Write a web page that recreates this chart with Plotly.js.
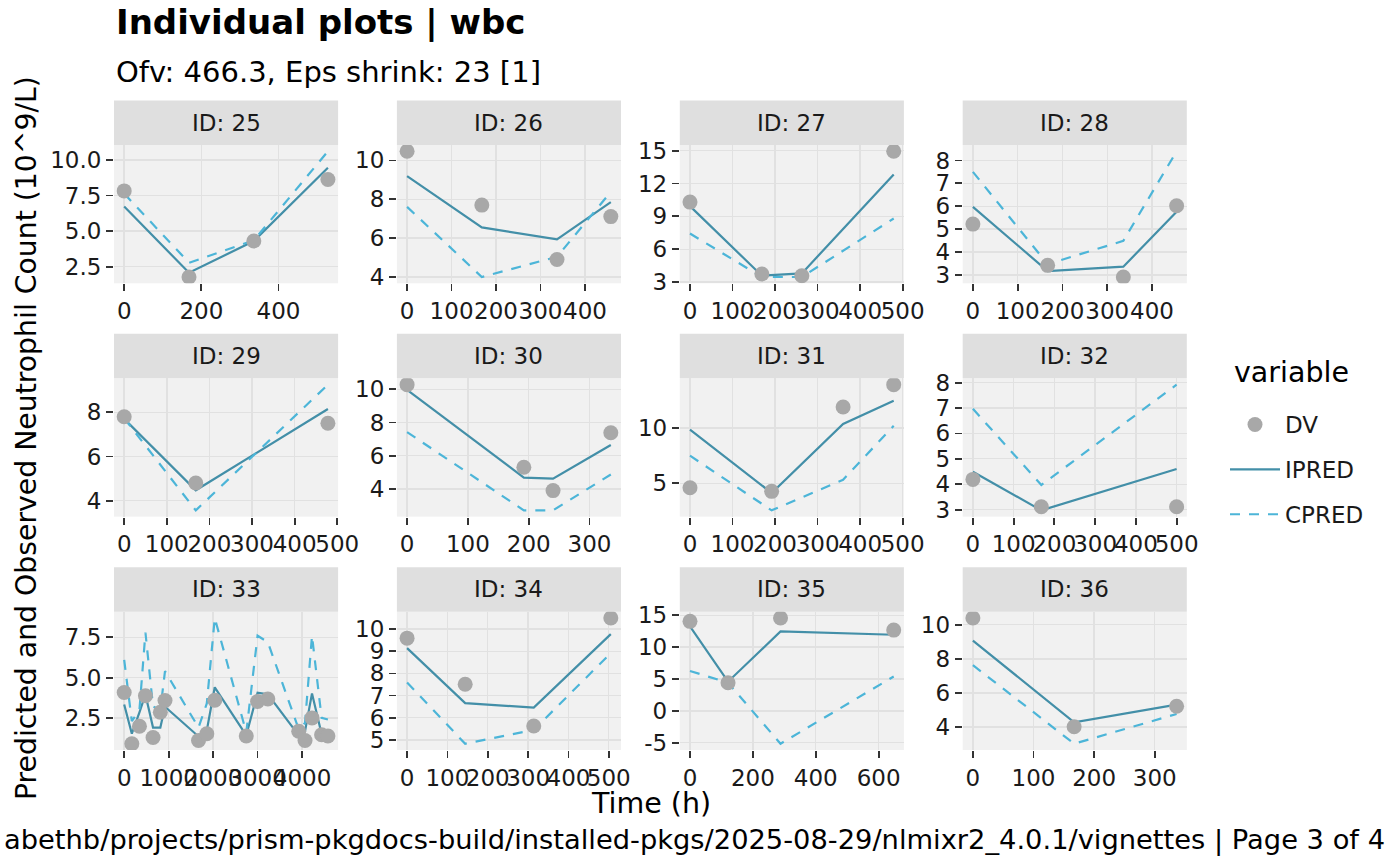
<!DOCTYPE html>
<html>
<head>
<meta charset="utf-8">
<script src="https://cdn.plot.ly/plotly-3.0.1.min.js"></script>
<style>
  html, body { margin: 0; padding: 0; background: #ffffff; }
  #chart { width: 1400px; height: 865px; }
</style>
</head>
<body>
<div id="chart"></div>
<script>
// ============================================================================
// Data
// ============================================================================

const ids = [25, 26, 27, 28, 29, 30, 31, 32, 33, 34, 35, 36];

const time25 = [0, 168, 336, 528];
const dv25 = [7.82, 1.78, 4.31, 8.62];
const ipred25 = [6.72, 2.08, 4.30, 9.44];
const cpred25 = [7.63, 2.78, 4.35, 10.6];

const time26 = [0, 168, 337, 458];
const dv26 = [10.47, 7.70, 4.90, 7.11];
const ipred26 = [9.19, 6.55, 5.94, 7.85];
const cpred26 = [7.61, 4.00, 5.04, 8.38];

const time27 = [0, 169, 263, 479];
const dv27 = [10.30, 3.73, 3.58, 14.94];
const ipred27 = [9.93, 3.58, 3.79, 12.83];
const cpred27 = [7.43, 3.46, 3.46, 8.80];

const time28 = [0, 167, 336, 455];
const dv28 = [5.22, 3.42, 2.91, 6.02];
const ipred28 = [5.97, 3.17, 3.36, 5.76];
const cpred28 = [7.50, 3.47, 4.49, 8.40];

const time29 = [0, 168, 478];
const dv29 = [7.80, 4.80, 7.50];
const ipred29 = [7.70, 4.47, 8.15];
const cpred29 = [7.73, 3.56, 9.25];

const time30 = [0, 192, 240, 335];
const dv30 = [10.28, 5.31, 3.90, 7.38];
const ipred30 = [9.96, 4.68, 4.62, 6.65];
const cpred30 = [7.42, 2.71, 2.71, 4.87];

const time31 = [0, 192, 360, 479];
const dv31 = [4.61, 4.28, 11.90, 13.92];
const ipred31 = [9.85, 4.13, 10.36, 12.47];
const cpred31 = [7.50, 2.56, 5.33, 10.20];

const time32 = [0, 168, 500];
const dv32 = [4.19, 3.11, 3.11];
const ipred32 = [4.49, 2.97, 4.60];
const cpred32 = [6.97, 3.97, 7.92];

const time33 = [0, 172, 343, 478, 649, 813, 918, 1672, 1858, 2037, 2746, 3000, 3231, 3925, 4067, 4224, 4440, 4582];
const dv33 = [4.08, 0.90, 1.98, 3.88, 1.29, 2.85, 3.58, 1.10, 1.52, 3.60, 1.38, 3.52, 3.67, 1.67, 1.10, 2.50, 1.46, 1.38];
const ipred33 = [3.33, 1.52, 2.85, 3.96, 1.90, 1.90, 3.19, 1.35, 1.73, 4.40, 1.42, 4.06, 3.96, 1.42, 1.67, 4.02, 1.50, 1.45];
const cpred33 = [6.10, 2.30, 3.00, 7.80, 3.20, 3.00, 5.40, 1.90, 3.40, 8.70, 1.60, 7.60, 7.20, 1.80, 2.20, 7.60, 2.50, 2.40];

const time34 = [0, 144, 314, 505];
const dv34 = [9.59, 7.51, 5.63, 10.50];
const ipred34 = [9.14, 6.66, 6.46, 9.77];
const cpred34 = [7.59, 4.83, 5.45, 8.92];

const time35 = [0, 121, 288, 648];
const dv35 = [14.05, 4.42, 14.58, 12.68];
const ipred35 = [13.26, 4.58, 12.47, 11.95];
const cpred35 = [6.26, 4.42, -5.16, 5.40];

const time36 = [0, 167, 336];
const dv36 = [10.39, 4.02, 5.22];
const ipred36 = [9.07, 4.28, 5.32];
const cpred36 = [7.63, 3.03, 4.77];

// Tick breaks per facet (same order as ids)
const xTickVals = [
    [0, 200, 400], [0, 100, 200, 300, 400], [0, 100, 200, 300, 400, 500], [0, 100, 200, 300, 400],
    [0, 100, 200, 300, 400, 500], [0, 100, 200, 300], [0, 100, 200, 300, 400, 500], [0, 100, 200, 300, 400, 500],
    [0, 1000, 2000, 3000, 4000], [0, 100, 200, 300, 400, 500], [0, 200, 400, 600], [0, 100, 200, 300]
];
const yTickVals = [
    [2.5, 5, 7.5, 10], [4, 6, 8, 10], [3, 6, 9, 12, 15], [3, 4, 5, 6, 7, 8],
    [4, 6, 8], [4, 6, 8, 10], [5, 10], [3, 4, 5, 6, 7, 8],
    [2.5, 5, 7.5], [5, 6, 7, 8, 9, 10], [-5, 0, 5, 10, 15], [4, 6, 8, 10]
];
const yTickDecimals = [1, 0, 0, 0, 0, 0, 0, 0, 1, 0, 0, 0];

const panels = [
    { time: time25, dv: dv25, ipred: ipred25, cpred: cpred25 },
    { time: time26, dv: dv26, ipred: ipred26, cpred: cpred26 },
    { time: time27, dv: dv27, ipred: ipred27, cpred: cpred27 },
    { time: time28, dv: dv28, ipred: ipred28, cpred: cpred28 },
    { time: time29, dv: dv29, ipred: ipred29, cpred: cpred29 },
    { time: time30, dv: dv30, ipred: ipred30, cpred: cpred30 },
    { time: time31, dv: dv31, ipred: ipred31, cpred: cpred31 },
    { time: time32, dv: dv32, ipred: ipred32, cpred: cpred32 },
    { time: time33, dv: dv33, ipred: ipred33, cpred: cpred33 },
    { time: time34, dv: dv34, ipred: ipred34, cpred: cpred34 },
    { time: time35, dv: dv35, ipred: ipred35, cpred: cpred35 },
    { time: time36, dv: dv36, ipred: ipred36, cpred: cpred36 }
];

// ============================================================================
// Look & geometry (pixels of the 1400x865 page)
// ============================================================================

const W = 1400, H = 865;
const FONT = 'DejaVu Sans';
const COLORS = {
    dv: '#A8A8A8',
    ipred: '#438FA8',
    cpred: '#4CB5D8',
    panel: '#F1F1F1',
    grid: '#E1E1E1',
    strip: '#DFDFDF',
    tick: '#333333',
    text: '#1A1A1A'
};
const COL_LEFT = [114, 396.9, 679.8, 962.7];
const COL_W = 224.1;
const ROW_BOTTOM = [283.3, 516.65, 750];
const PLOT_H = 138.3;
const STRIP_H = 44.5;

const px = x => x / W;
const py = y => 1 - y / H;

// ggplot-style 5% expansion of the data span
function paddedRange(values) {
    const lo = Math.min(...values);
    const hi = Math.max(...values);
    const pad = (hi - lo) * 0.05;
    return [lo - pad, hi + pad];
}

// ============================================================================
// Build traces and axes
// ============================================================================

const traces = [];
const layout = {
    width: W,
    height: H,
    margin: { l: 0, r: 0, t: 0, b: 0 },
    paper_bgcolor: '#ffffff',
    plot_bgcolor: COLORS.panel,
    font: { family: FONT, color: COLORS.text },
    showlegend: true,
    legend: {
        x: px(1225), y: py(403), xanchor: 'left', yanchor: 'top',
        bgcolor: 'rgba(0,0,0,0)',
        font: { size: 23, color: COLORS.text },
        tracegroupgap: 12,
        itemwidth: 50,
        traceorder: 'grouped'
    },
    shapes: [],
    annotations: []
};

panels.forEach((p, i) => {
    const n = i === 0 ? '' : String(i + 1);
    const col = i % 4;
    const row = Math.floor(i / 4);
    const left = COL_LEFT[col];
    const bottom = ROW_BOTTOM[row];
    const top = bottom - PLOT_H;

    const xr = paddedRange(p.time);
    const yr = paddedRange([...p.dv, ...p.ipred, ...p.cpred]);

    layout['xaxis' + n] = {
        domain: [px(left), px(left + COL_W)],
        anchor: 'y' + n,
        range: xr,
        tickmode: 'array',
        tickvals: xTickVals[i],
        ticktext: xTickVals[i].map(v => String(v)),
        showgrid: true, gridcolor: COLORS.grid, gridwidth: 1.4,
        zeroline: false, showline: false,
        ticks: 'outside', ticklen: 7, tickwidth: 1.8, tickcolor: COLORS.tick,
        tickfont: { size: 23, color: COLORS.text },
        tickangle: 0,
        fixedrange: true
    };
    layout['yaxis' + n] = {
        domain: [py(bottom), py(top)],
        anchor: 'x' + n,
        range: yr,
        tickmode: 'array',
        tickvals: yTickVals[i],
        ticktext: yTickVals[i].map(v => v.toFixed(yTickDecimals[i])),
        showgrid: true, gridcolor: COLORS.grid, gridwidth: 1.4,
        zeroline: false, showline: false,
        ticks: 'outside', ticklen: 7, tickwidth: 1.8, tickcolor: COLORS.tick,
        tickfont: { size: 23, color: COLORS.text },
        fixedrange: true
    };

    // facet strip
    layout.shapes.push({
        type: 'rect', xref: 'paper', yref: 'paper', layer: 'below',
        x0: px(left), x1: px(left + COL_W),
        y0: py(top), y1: py(top - STRIP_H),
        fillcolor: COLORS.strip, line: { width: 0 }
    });
    layout.annotations.push({
        xref: 'paper', yref: 'paper', showarrow: false,
        x: px(left + COL_W / 2), y: py(top - STRIP_H / 2),
        xanchor: 'center', yanchor: 'middle',
        text: 'ID: ' + ids[i],
        font: { size: 23, color: COLORS.text }
    });

    const first = i === 0;
    traces.push({
        type: 'scatter', mode: 'lines',
        x: p.time, y: p.ipred,
        xaxis: 'x' + n, yaxis: 'y' + n,
        name: 'IPRED', legendgroup: 'IPRED', legendrank: 2, showlegend: first,
        line: { color: COLORS.ipred, width: 2.2 },
        hoverinfo: 'skip'
    });
    traces.push({
        type: 'scatter', mode: 'lines',
        x: p.time, y: p.cpred,
        xaxis: 'x' + n, yaxis: 'y' + n,
        name: 'CPRED', legendgroup: 'CPRED', legendrank: 3, showlegend: first,
        line: { color: COLORS.cpred, width: 2.2, dash: '10px,9px' },
        hoverinfo: 'skip'
    });
    traces.push({
        type: 'scatter', mode: 'markers',
        x: p.time, y: p.dv,
        xaxis: 'x' + n, yaxis: 'y' + n,
        name: 'DV', legendgroup: 'DV', legendrank: 1, showlegend: first,
        marker: { color: COLORS.dv, size: 15 },
        hoverinfo: 'skip'
    });
});

// Titles, axis labels, legend title and caption
layout.annotations.push(
    {
        xref: 'paper', yref: 'paper', showarrow: false,
        x: px(114), y: py(22), xanchor: 'left', yanchor: 'middle',
        text: '<b>Individual plots | wbc</b>',
        font: { size: 34, color: '#000000' }
    },
    {
        xref: 'paper', yref: 'paper', showarrow: false,
        x: px(114), y: py(72), xanchor: 'left', yanchor: 'middle',
        text: 'Ofv: 466.3, Eps shrink: 23 [1]',
        font: { size: 29, color: '#000000' }
    },
    {
        xref: 'paper', yref: 'paper', showarrow: false,
        x: px(26), y: py(438), xanchor: 'center', yanchor: 'middle',
        textangle: -90,
        text: 'Predicted and Observed Neutrophil Count (10^9/L)',
        font: { size: 28.3, color: '#000000' }
    },
    {
        xref: 'paper', yref: 'paper', showarrow: false,
        x: px(650.5), y: py(803), xanchor: 'center', yanchor: 'middle',
        text: 'Time (h)',
        font: { size: 28.5, color: '#000000' }
    },
    {
        xref: 'paper', yref: 'paper', showarrow: false,
        x: px(1232), y: py(372), xanchor: 'left', yanchor: 'middle',
        text: 'variable',
        font: { size: 28.5, color: '#000000' }
    },
    {
        xref: 'paper', yref: 'paper', showarrow: false,
        x: px(1387), y: py(840), xanchor: 'right', yanchor: 'middle',
        text: 'abethb/projects/prism-pkgdocs-build/installed-pkgs/2025-08-29/nlmixr2_4.0.1/vignettes | Page 3 of 4',
        font: { size: 27.3, color: '#000000' }
    }
);

Plotly.newPlot('chart', traces, layout, { displayModeBar: false, staticPlot: true });
</script>
</body>
</html>
